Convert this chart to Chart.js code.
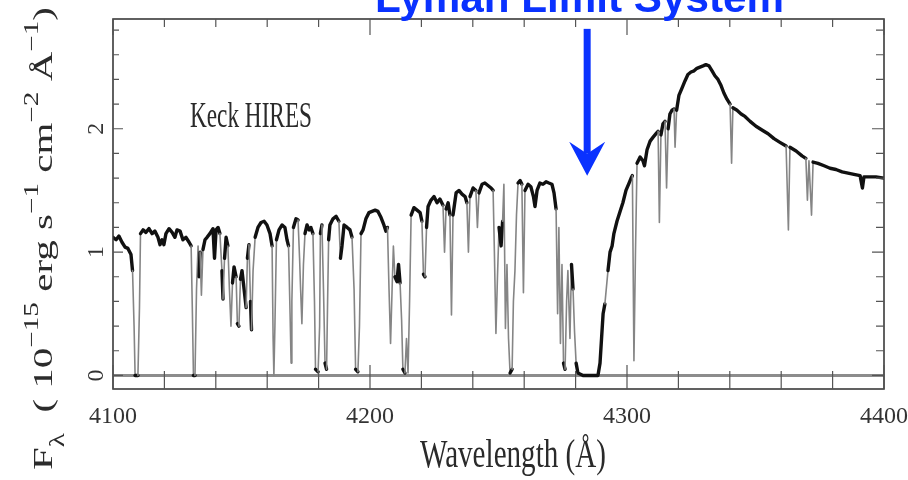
<!DOCTYPE html>
<html>
<head>
<meta charset="utf-8">
<script src="https://cdn.jsdelivr.net/npm/chart.js@4/dist/chart.umd.min.js"></script>
<style>
  html, body { margin: 0; padding: 0; background: #fff; }
</style>
</head>
<body>
<canvas id="SpecChart" width="908" height="480"></canvas>
<script>
// spectrum: wavelength (A) and flux (1e-15 erg/s/cm2/A)
const wavelength = [
  4100.0, 4101.2, 4102.3, 4103.5, 4104.7, 4105.8, 4107.0, 4107.6, 4108.2, 4108.6,
  4109.7, 4110.3, 4110.7, 4111.7, 4112.8, 4114.0, 4115.2, 4116.3, 4117.5, 4118.3,
  4119.1, 4119.8, 4120.6, 4121.8, 4123.0, 4124.1, 4124.9, 4126.1, 4127.2, 4128.4,
  4129.6, 4130.4, 4130.9, 4131.3, 4131.9, 4132.5, 4133.1, 4133.5, 4133.9, 4134.4,
  4135.0, 4135.8, 4136.6, 4137.7, 4138.9, 4139.5, 4140.1, 4140.9, 4141.6, 4142.4,
  4142.8, 4143.4, 4144.0, 4144.7, 4145.3, 4145.9, 4146.5, 4147.1, 4147.9, 4148.4,
  4149.0, 4149.6, 4150.2, 4151.0, 4151.8, 4152.3, 4152.9, 4153.5, 4153.9, 4154.5,
  4155.3, 4156.4, 4157.6, 4158.8, 4159.9, 4161.1, 4161.9, 4162.3, 4162.6, 4163.0,
  4163.6, 4164.6, 4165.8, 4166.9, 4167.7, 4168.3, 4168.9, 4169.3, 4169.6, 4170.2,
  4171.2, 4172.0, 4172.6, 4173.0, 4173.5, 4174.1, 4174.7, 4175.5, 4176.3, 4177.0,
  4177.8, 4178.4, 4178.8, 4179.8, 4180.4, 4180.7, 4181.3, 4181.9, 4182.5, 4183.1,
  4183.5, 4183.9, 4184.4, 4185.6, 4186.8, 4187.9, 4188.5, 4189.1, 4189.9, 4191.1,
  4192.2, 4193.0, 4193.8, 4194.4, 4195.3, 4195.9, 4196.5, 4197.3, 4198.4, 4199.6,
  4200.8, 4202.0, 4203.1, 4204.3, 4205.4, 4206.2, 4206.8, 4207.4, 4208.0, 4208.6,
  4209.1, 4209.7, 4210.5, 4211.1, 4211.7, 4212.3, 4212.8, 4213.6, 4214.2, 4214.8,
  4215.4, 4216.0, 4217.1, 4218.3, 4219.5, 4220.2, 4220.8, 4221.4, 4222.0, 4222.6,
  4223.7, 4224.9, 4226.1, 4227.2, 4228.4, 4229.0, 4229.6, 4230.4, 4231.1, 4231.7,
  4232.3, 4233.5, 4234.6, 4235.8, 4237.0, 4237.7, 4238.3, 4238.9, 4240.1, 4241.2,
  4241.8, 4242.4, 4243.6, 4244.7, 4245.9, 4247.1, 4247.9, 4248.4, 4249.0, 4249.6,
  4250.2, 4251.0, 4251.6, 4252.1, 4252.7, 4253.3, 4253.9, 4254.5, 4255.3, 4255.8,
  4256.4, 4257.0, 4257.6, 4258.4, 4259.1, 4259.7, 4260.3, 4261.5, 4262.6, 4263.6,
  4264.2, 4265.0, 4266.1, 4267.3, 4268.5, 4269.6, 4270.8, 4271.6, 4272.4, 4273.0,
  4273.5, 4274.1, 4274.7, 4275.3, 4275.9, 4276.5, 4277.0, 4277.8, 4278.4, 4279.0,
  4279.6, 4280.2, 4280.9, 4282.9, 4285.6, 4288.7, 4289.5, 4290.1, 4290.7, 4291.4,
  4292.6, 4293.4, 4294.2, 4294.9, 4296.1, 4297.3, 4298.4, 4299.6, 4300.8, 4301.6,
  4302.1, 4302.7, 4303.3, 4303.9, 4305.1, 4306.2, 4306.8, 4307.8, 4309.0, 4310.1,
  4311.3, 4312.1, 4312.6, 4313.2, 4314.0, 4314.8, 4315.4, 4316.0, 4316.7, 4317.5,
  4318.3, 4318.7, 4319.3, 4320.2, 4321.4, 4322.6, 4323.7, 4324.9, 4326.1, 4327.2,
  4328.4, 4329.6, 4330.7, 4331.9, 4333.1, 4334.2, 4335.4, 4336.6, 4337.7, 4338.9,
  4340.1, 4340.7, 4341.2, 4342.8, 4344.4, 4345.9, 4347.9, 4350.2, 4352.5, 4354.9,
  4357.2, 4359.5, 4361.9, 4362.8, 4363.4, 4365.8, 4368.1, 4369.6, 4370.2, 4370.8,
  4371.8, 4372.4, 4374.3, 4376.7, 4379.0, 4381.3, 4383.7, 4386.0, 4388.3, 4390.7,
  4391.6, 4392.2, 4394.6, 4396.9, 4400.0
];
const flux = [
  1.12, 1.10, 1.13, 1.08, 1.04, 1.03, 0.98, 0.85, 0.40, 0.00,
  0.00, 0.55, 1.15, 1.18, 1.16, 1.19, 1.15, 1.17, 1.12, 1.06,
  1.10, 1.06, 1.15, 1.19, 1.16, 1.12, 1.18, 1.17, 1.10, 1.12,
  1.08, 1.05, 0.50, 0.00, 0.00, 0.70, 1.05, 0.80, 1.00, 0.65,
  1.02, 1.10, 1.12, 1.15, 1.19, 0.95, 1.18, 1.20, 1.15, 0.85,
  0.62, 0.95, 1.12, 1.05, 0.70, 0.40, 0.75, 0.88, 0.80, 0.42,
  0.40, 0.78, 0.85, 0.70, 0.55, 0.95, 1.06, 0.60, 0.37, 0.85,
  1.12, 1.20, 1.24, 1.25, 1.22, 1.15, 1.05, 0.30, 0.00, 0.40,
  1.10, 1.18, 1.22, 1.20, 1.10, 1.05, 0.50, 0.10, 0.60, 1.20,
  1.27, 1.26, 0.95, 0.70, 0.42, 0.90, 1.15, 1.22, 1.18, 1.20,
  1.15, 0.60, 0.05, 0.03, 0.40, 1.15, 1.22, 0.70, 0.10, 0.05,
  0.60, 1.10, 1.22, 1.27, 1.29, 1.25, 0.95, 1.05, 1.22, 1.20,
  1.18, 1.12, 0.70, 0.05, 0.03, 0.40, 1.15, 1.18, 1.27, 1.32,
  1.33, 1.34, 1.33, 1.28, 1.22, 1.17, 1.20, 0.70, 0.26, 0.70,
  1.05, 0.80, 0.76, 0.90, 0.75, 0.45, 0.05, 0.02, 0.30, 0.02,
  0.60, 1.30, 1.36, 1.34, 1.32, 1.25, 0.82, 0.80, 1.20, 1.37,
  1.42, 1.45, 1.40, 1.43, 1.38, 1.00, 1.35, 1.40, 1.30, 0.49,
  1.30, 1.48, 1.50, 1.47, 1.45, 1.40, 1.00, 1.45, 1.52, 1.50,
  1.20, 1.48, 1.55, 1.56, 1.54, 1.52, 1.50, 1.00, 0.34, 0.80,
  1.20, 1.05, 1.25, 1.55, 0.38, 0.90, 0.30, 0.02, 0.05, 0.60,
  0.85, 1.30, 1.56, 1.58, 1.55, 0.67, 1.50, 1.55, 1.53, 1.45,
  1.37, 1.50, 1.56, 1.55, 1.57, 1.56, 1.55, 1.48, 1.35, 0.50,
  1.20, 0.26, 0.90, 0.10, 0.05, 0.60, 0.85, 0.30, 0.90, 0.70,
  0.35, 0.10, 0.02, 0.00, 0.00, 0.00, 0.10, 0.30, 0.50, 0.58,
  0.85, 1.00, 1.05, 1.15, 1.25, 1.33, 1.40, 1.50, 1.56, 1.60,
  1.62, 0.12, 1.00, 1.72, 1.77, 1.74, 1.70, 1.83, 1.90, 1.93,
  1.96, 1.98, 1.24, 1.95, 2.04, 2.06, 1.52, 2.00, 2.12, 2.15,
  2.16, 1.85, 2.15, 2.27, 2.33, 2.39, 2.44, 2.46, 2.47, 2.49,
  2.50, 2.51, 2.52, 2.51, 2.47, 2.43, 2.40, 2.35, 2.29, 2.24,
  2.20, 1.72, 2.17, 2.15, 2.12, 2.10, 2.06, 2.02, 1.99, 1.96,
  1.92, 1.89, 1.86, 1.18, 1.85, 1.82, 1.78, 1.76, 1.42, 1.74,
  1.30, 1.73, 1.72, 1.70, 1.68, 1.67, 1.65, 1.64, 1.63, 1.62,
  1.52, 1.61, 1.61, 1.61, 1.60
];
const xTickLabels = [4100, 4200, 4300, 4400];
const yTickLabels = [0, 1, 2];
const xRange = [4100, 4400];
const yRange = [-0.11, 2.89];
// arrow marking the Lyman limit, in data units
const arrowAt = { x: 4284.5, top: 2.81, tip: 1.62 };

function fitText(ctx, text, x, y, font, w, color) {
  ctx.save();
  ctx.font = font;
  ctx.fillStyle = color;
  ctx.textBaseline = 'alphabetic';
  const m = ctx.measureText(text).width;
  ctx.translate(x, y);
  ctx.scale(w / m, 1);
  ctx.fillText(text, 0, 0);
  ctx.restore();
}

function drawYTitle(ctx) {
  const parts = [
    ['F', 'm'], ['\u03bb', 'b'], ['  ( 10', 'm'], ['\u221215', 'p'], [' erg s', 'm'],
    ['\u22121', 'p'], [' cm', 'm'], ['\u22122', 'p'], [' \u00c5', 'm'], ['\u22121', 'p'], [')', 'm']
  ];
  const fonts = { m: '28px "Liberation Serif", serif', p: '20px "Liberation Serif", serif', b: '20px "Liberation Serif", serif' };
  const shift = { m: 0, p: -14, b: 12 };
  ctx.save();
  let total = 0;
  const widths = parts.map(([t, k]) => { ctx.font = fonts[k]; const w = ctx.measureText(t).width; total += w; return w; });
  ctx.translate(52, 470);
  ctx.rotate(-Math.PI / 2);
  ctx.scale(463 / total, 1);
  ctx.fillStyle = '#2b2b2b';
  ctx.textBaseline = 'alphabetic';
  let pos = 0;
  parts.forEach(([t, k], i) => {
    ctx.font = fonts[k];
    ctx.fillText(t, pos, shift[k]);
    pos += widths[i];
  });
  ctx.restore();
}

const decorations = {
  id: 'decorations',
  beforeDatasetsDraw(chart) {
    const { ctx, chartArea: a, scales: { y } } = chart;
    const y0 = y.getPixelForValue(0);
    ctx.save();
    ctx.strokeStyle = '#8c8c8c';
    ctx.lineWidth = 3;
    ctx.beginPath();
    ctx.moveTo(a.left, y0);
    ctx.lineTo(a.right, y0);
    ctx.stroke();
    ctx.restore();
  },
  afterDraw(chart) {
    const { ctx, chartArea: a, scales: { x, y } } = chart;
    ctx.save();
    // frame
    ctx.strokeStyle = '#3a3a3a';
    ctx.lineWidth = 1.6;
    ctx.strokeRect(a.left, a.top, a.right - a.left, a.bottom - a.top);
    // inward ticks
    ctx.strokeStyle = '#555';
    ctx.lineWidth = 1.2;
    ctx.beginPath();
    for (let v = xRange[0]; v <= xRange[1]; v += 20) {
      const px = x.getPixelForValue(v);
      const major = v % 100 === 0;
      ctx.moveTo(px, a.bottom); ctx.lineTo(px, a.bottom - (major ? 24 : 18));
      ctx.moveTo(px, a.top); ctx.lineTo(px, a.top + (major ? 16 : 8));
    }
    for (let i = 0; i <= 14; i++) {
      const py = y.getPixelForValue(i * 0.2);
      const major = i % 5 === 0;
      ctx.moveTo(a.left, py); ctx.lineTo(a.left + (major ? 10 : 6), py);
      ctx.moveTo(a.right, py); ctx.lineTo(a.right - (major ? 12 : 8), py);
    }
    ctx.stroke();
    ctx.restore();

    fitText(ctx, 'Keck HIRES', 190, 127, '35px "Liberation Serif", serif', 122, '#2a2a2a');
    fitText(ctx, 'Wavelength (\u00c5)', 420, 467, '40px "Liberation Serif", serif', 186, '#2a2a2a');
    drawYTitle(ctx);

    // arrow
    const ax = x.getPixelForValue(arrowAt.x);
    const aTop = y.getPixelForValue(arrowAt.top);
    const aTip = y.getPixelForValue(arrowAt.tip);
    ctx.save();
    ctx.fillStyle = '#0a32ff';
    ctx.fillRect(ax - 3.5, aTop, 7, aTip - 22 - aTop);
    ctx.beginPath();
    ctx.moveTo(ax, aTip);
    ctx.lineTo(ax - 18, aTip - 34);
    ctx.lineTo(ax, aTip - 22);
    ctx.lineTo(ax + 18, aTip - 34);
    ctx.closePath();
    ctx.fill();
    ctx.restore();

    fitText(ctx, 'Lyman Limit System', 375, 12, 'bold 42px "Liberation Sans", Arial, sans-serif', 409, '#0a32ff');
  }
};

const steep = c => Math.abs(c.p1.y - c.p0.y) > 30;

const spec = document.getElementById('SpecChart').getContext('2d');
const specChart = new Chart(spec, {
  type: 'line',
  data: {
    datasets: [{
      label: 'Flux',
      data: wavelength.map((w, i) => ({ x: w, y: flux[i] })),
      borderColor: '#111',
      borderWidth: 3.4,
      pointRadius: 0,
      tension: 0,
      borderJoinStyle: 'round',
      borderCapStyle: 'round',
      segment: {
        borderColor: c => steep(c) ? '#858585' : '#111',
        borderWidth: c => steep(c) ? 1.6 : 3.4
      }
    }]
  },
  options: {
    responsive: false,
    animation: false,
    layout: { padding: { top: 19, right: 24, left: 0, bottom: 0 } },
    plugins: { legend: { display: false }, tooltip: { enabled: false } },
    scales: {
      x: {
        type: 'linear',
        min: xRange[0],
        max: xRange[1],
        grid: { display: false, drawTicks: false },
        border: { display: false },
        afterBuildTicks: s => { s.ticks = xTickLabels.map(v => ({ value: v })); },
        afterFit: s => { s.height = 91; s.paddingLeft = 0; s.paddingRight = 0; },
        ticks: {
          callback: v => String(v),
          color: '#333',
          padding: 13,
          maxRotation: 0,
          autoSkip: false,
          font: { family: '"Liberation Serif", serif', size: 24 }
        }
      },
      y: {
        min: yRange[0],
        max: yRange[1],
        grid: { display: false, drawTicks: false },
        border: { display: false },
        afterBuildTicks: s => { s.ticks = yTickLabels.map(v => ({ value: v })); },
        afterFit: s => { s.width = 113; s.paddingTop = 0; s.paddingBottom = 0; },
        ticks: {
          callback: v => String(v),
          color: '#333',
          padding: 10,
          minRotation: 90,
          maxRotation: 90,
          crossAlign: 'center',
          font: { family: '"Liberation Serif", serif', size: 24 }
        }
      }
    }
  },
  plugins: [decorations]
});
</script>
</body>
</html>
